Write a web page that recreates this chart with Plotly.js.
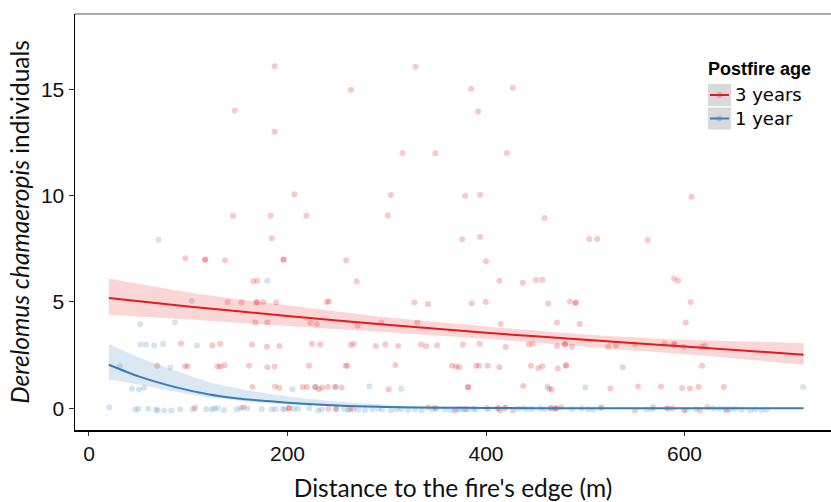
<!DOCTYPE html>
<html>
<head>
<meta charset="utf-8">
<script src="https://cdn.plot.ly/plotly-3.0.1.min.js"></script>
<style>html,body{margin:0;padding:0;background:#fff;}#chart{width:831px;height:502px;}</style>
</head>
<body>
<div id="chart"></div>
<script>
// ---------- DATA ----------
var seriesNames = ['3 years', '1 year'];
var legendTitle = 'Postfire age';
var xTitle = "Distance to the fire's edge (m)";
var yTitle = '<i>Derelomus chamaeropis</i> individuals';
var xTicks = [0, 200, 400, 600];
var yTicks = [0, 5, 10, 15];

// 3 years – observed counts (jittered as drawn)
var redHighX = [187,329,147,187,264,385,427,392,316,349,421,207,304,379,394,607,145,183,219,301,459,184,376,394,504,512,563,97,117,117,137,196,196,259,400];
var redHighY = [16.08,16.06,14.0,13.0,14.98,15.03,15.07,13.96,12.0,11.99,12.0,10.06,10.03,10.0,10.04,9.95,9.05,9.05,9.05,9.07,8.95,8.0,7.95,8.05,7.96,7.96,7.91,7.05,7.0,6.98,6.96,7.0,6.98,6.96,6.92];
var red6X = [165.5,169.6,269.7,413.4,437,450.4,456.7,589.4,593.5];
var red6Y = [5.97,6.0,5.96,6.0,5.9,6.03,6.05,6.1,6.0];
var red5X = [139.7,153.8,169,169,175.6,188.7,239.8,241.8,327.8,341.6,385.6,399.7,462.8,484.6,490.4,490.4,606.2];
var red5Y = [5.0,4.98,5.0,4.97,5.0,4.97,5.0,5.02,4.97,4.9,4.93,5.0,4.93,5.02,4.97,4.95,5.0];
var red4X = [167.6,179.7,223,229.7,270.7,294.5,330.8,414.8,471.5,494.4,601.2];
var red4Y = [4.04,4.04,4.04,3.96,3.88,4.04,4.04,3.96,4.04,3.96,4.04];
var red3X = [92.7,124.2,132.3,164.2,179.3,191.8,224.7,233,263.7,266.7,288.9,298.6,311.6,334.5,339.9,350.6,376.8,393.6,419.8,443,447,471.5,479.6,479.6,486.6,523.2,531,550.1,579.7,589.7,589.7,598.8,617.3,620.7];
var red3Y = [3.05,2.95,3.03,3.0,2.9,2.93,3.03,3.0,2.98,3.04,2.93,3.0,2.93,3.0,2.92,2.95,3.0,3.03,2.88,3.0,3.03,2.93,3.0,3.02,2.9,2.9,2.95,3.0,3.03,3.0,3.02,2.9,2.9,2.95];
var red2X = [68.8,96.7,99.4,129.7,132.3,136.7,161.2,179.7,187.1,221.7,258.6,260.3,308.6,365.7,370.1,373.1,390,393,401.7,413.4,445.3,452.7,456.7,472.5,480.6,480.6,537.7,617.6];
var red2Y = [2.0,1.98,1.98,1.96,1.96,2.02,2.0,1.93,1.96,2.0,2.0,2.0,2.04,2.0,1.96,1.93,2.0,2.0,2.0,1.93,2.0,1.9,1.98,1.87,2.0,2.02,1.93,2.0];
var red1X = [164.6,187.4,191.8,215.3,219.6,228,231.4,234.8,240.8,248.2,254.6,302,381.9,381.9,437.6,463.8,466.2,525.3,553.1,576.3,597.5,605.5,614.3,639.5];
var red1Y = [1.0,1.02,0.97,1.0,1.0,1.0,0.9,0.98,1.0,1.0,0.98,0.9,1.0,0.98,1.05,0.92,0.88,0.93,1.02,1.02,0.95,0.93,1.0,1.0];
var red0X = [106.8,155.5,201.5,201.5,241.1,248.9,263,266.3,341.9,348.6,368.8,379.5,412.4,414.1,419,427,465.2,469.5,471,475.6,516.5,550.1,568.6,583.7,588,599.5,615.6,623,642.5];
var red0Y = [0.02,0.05,0.0,0.02,-0.02,-0.02,-0.02,-0.03,0.05,0.03,-0.1,-0.05,0.0,-0.1,0.02,-0.1,0.0,0.02,0.0,0.05,0.05,-0.1,0.05,-0.02,0.0,-0.1,-0.1,0.05,-0.1];

// 1 year – observed counts
var blueNzX = [70,179.7,103.5,51.7,86.6,51.7,57.4,65.8,74.6,108.8,31,82,43.4,50.4,55.5,204.9,228,248.2,282.4,314.4,461.8,500,719.5];
var blueNzY = [7.93,6.0,5.05,3.95,4.04,3.0,3.0,2.95,3.02,2.95,1.99,1.92,0.92,0.88,0.97,0.9,1.0,1.0,1.02,0.92,1.02,0.98,1.0];
var blue0X = [20.5,46.7,49.7,59.8,67.5,69.2,75.9,82.9,92,104.5,117.9,123.6,126.3,129.7,136,148.8,152.8,159.5,174,184,188,195,197.5,206.5,210.6,222,231,234.4,249.2,256.9,261.3,271.3,278,285.5,291.5,295.5,304.3,310,315,321.7,328.5,335.2,346.3,350.3,358.7,364.4,370.5,373.8,377.2,382.2,387.2,389.6,400.7,402.3,411.4,419.5,432.6,437.6,442,446.7,454.4,458.8,465.2,469.5,486.3,496.4,503,508.1,515,561.9,567,582,601.5,611.6,629,634.8,640.8,645.8,651,657.6,666,671,677.8,682.8];
var blue0Y = [0.05,-0.07,-0.02,-0.02,-0.07,-0.09,-0.1,-0.1,-0.04,-0.05,-0.05,-0.06,0.0,0.0,-0.08,-0.05,0.0,-0.01,-0.03,-0.05,-0.05,-0.03,-0.04,-0.02,-0.02,0.0,-0.1,-0.04,-0.03,-0.05,-0.08,-0.06,-0.08,-0.04,-0.02,-0.06,-0.1,-0.06,-0.03,-0.08,-0.05,-0.09,-0.06,-0.02,-0.04,-0.09,-0.05,-0.03,-0.06,-0.04,-0.02,-0.05,0.02,-0.03,0.0,0.03,-0.02,0.02,-0.03,-0.02,0.0,-0.04,0.02,-0.05,-0.03,0.0,-0.04,-0.06,0.0,-0.06,-0.04,0.02,-0.08,-0.05,0.0,-0.02,-0.03,-0.05,-0.02,-0.07,-0.1,-0.06,-0.08,-0.06];

// fitted curves and confidence bands
var redFitX = [20, 100, 200, 300, 400, 500, 600, 720];
var redFitY = [5.19, 4.79, 4.34, 3.93, 3.55, 3.22, 2.91, 2.52];
var redUpY  = [6.10, 5.45, 4.85, 4.28, 3.85, 3.47, 3.22, 3.08];
var redLoY  = [4.40, 4.18, 3.87, 3.58, 3.27, 2.90, 2.55, 2.05];
var blueFitX = [20, 50, 85, 120, 150, 180, 220, 260, 300, 350, 400, 500, 600, 720];
var blueFitY = [2.05, 1.5, 1.02, 0.66, 0.46, 0.34, 0.2, 0.11, 0.06, 0.03, 0.015, 0.004, 0.001, 0.0];
var blueUpY  = [3.02, 2.4, 1.8, 1.25, 0.93, 0.7, 0.45, 0.28, 0.16, 0.08, 0.05, 0.02, 0.01, 0.005];
var blueLoY  = [1.36, 1.12, 0.80, 0.52, 0.36, 0.24, 0.13, 0.06, 0.03, 0.015, 0.008, 0.002, 0.0, 0.0];

// ---------- STYLE ----------
var RED = '#e41a1c', BLUE = '#377eb8';
var W = 831, H = 502, ML = 75, MR = 0, MT = 14, MB = 72;
var PW = W - ML - MR, PH = H - MT - MB;
function pxX(p){ return (p - ML) / PW; }
function pxY(p){ return (H - MB - p) / PH; }

var redX = [].concat(redHighX, red6X, red5X, red4X, red3X, red2X, red1X, red0X);
var redY = [].concat(redHighY, red6Y, red5Y, red4Y, red3Y, red2Y, red1Y, red0Y);
var blueX = [].concat(blueNzX, blue0X);
var blueY = [].concat(blueNzY, blue0Y);

var traces = [
  {x: blueX, y: blueY, mode: 'markers', type: 'scatter', name: seriesNames[1], showlegend: false,
   marker: {color: BLUE, size: 6, opacity: 0.22, line: {width: 0}}, hoverinfo: 'skip'},
  {x: redX, y: redY, mode: 'markers', type: 'scatter', name: seriesNames[0], showlegend: false,
   marker: {color: RED, size: 6, opacity: 0.24, line: {width: 0}}, hoverinfo: 'skip'},
  {x: redFitX, y: redLoY, mode: 'lines', type: 'scatter', showlegend: false, line: {width: 0, shape: 'spline', smoothing: 0.6}, hoverinfo: 'skip'},
  {x: redFitX, y: redUpY, mode: 'lines', type: 'scatter', showlegend: false, fill: 'tonexty', fillcolor: 'rgba(228,26,28,0.18)', line: {width: 0, shape: 'spline', smoothing: 0.6}, hoverinfo: 'skip'},
  {x: blueFitX, y: blueLoY, mode: 'lines', type: 'scatter', showlegend: false, line: {width: 0, shape: 'spline', smoothing: 0.6}, hoverinfo: 'skip'},
  {x: blueFitX, y: blueUpY, mode: 'lines', type: 'scatter', showlegend: false, fill: 'tonexty', fillcolor: 'rgba(55,126,184,0.18)', line: {width: 0, shape: 'spline', smoothing: 0.6}, hoverinfo: 'skip'},
  {x: redFitX, y: redFitY, mode: 'lines', type: 'scatter', name: seriesNames[0], showlegend: false, line: {color: RED, width: 2, shape: 'spline', smoothing: 0.6}},
  {x: blueFitX, y: blueFitY, mode: 'lines', type: 'scatter', name: seriesNames[1], showlegend: false, line: {color: BLUE, width: 2, shape: 'spline', smoothing: 0.6}}
];

// manual legend (ggplot style grey keys)
var keyTop = [84, 107.5], keyH = 22, keyL = 708, keyR = 731;
var keyColors = [RED, BLUE];
var shapes = [
  {type: 'line', xref: 'paper', yref: 'paper', x0: 0, x1: 1, y0: 1, y1: 1, line: {color: '#555', width: 1}}
];
var annotations = [
  {xref: 'paper', yref: 'paper', x: pxX(keyL - 2), y: pxY(69), xanchor: 'left', yanchor: 'middle', showarrow: false,
   text: '<b>' + legendTitle + '</b>', font: {family: 'Liberation Sans, Arial, sans-serif', size: 18, color: '#000'}}
];
for (var i = 0; i < 2; i++) {
  var cy = keyTop[i] + keyH / 2;
  shapes.push({type: 'rect', xref: 'paper', yref: 'paper', x0: pxX(keyL), x1: pxX(keyR), y0: pxY(keyTop[i] + keyH), y1: pxY(keyTop[i]), fillcolor: '#d9d9d9', line: {width: 0}});
  shapes.push({type: 'line', xref: 'paper', yref: 'paper', x0: pxX(keyL + 2), x1: pxX(keyR - 2), y0: pxY(cy), y1: pxY(cy), line: {color: keyColors[i], width: 2}});
  shapes.push({type: 'circle', xref: 'paper', yref: 'paper', x0: pxX(keyL + 11.5 - 3), x1: pxX(keyL + 11.5 + 3), y0: pxY(cy + 3), y1: pxY(cy - 3), fillcolor: keyColors[i], opacity: 0.25, line: {width: 0}});
  annotations.push({xref: 'paper', yref: 'paper', x: pxX(keyR + 2), y: pxY(cy), xanchor: 'left', yanchor: 'middle', showarrow: false,
    text: seriesNames[i], font: {family: 'DejaVu Sans, sans-serif', size: 18, color: '#000'}});
}

var layout = {
  width: W, height: H,
  margin: {l: ML, r: MR, t: MT, b: MB, pad: 0},
  paper_bgcolor: '#fff', plot_bgcolor: '#fff',
  showlegend: false,
  xaxis: {
    range: [-14.1, 747.6], tickvals: xTicks, ticktext: xTicks.map(String),
    showgrid: false, zeroline: false, showline: true, linecolor: '#000', linewidth: 1.5,
    ticks: 'outside', ticklen: 4, tickwidth: 1, tickcolor: '#333',
    tickfont: {family: 'Liberation Sans, Arial, sans-serif', size: 21, color: '#111'},
    title: {text: xTitle, standoff: 20, font: {family: 'Lato, Open Sans, sans-serif', size: 24.5, color: '#111'}}
  },
  yaxis: {
    range: [-1.02, 18.54], tickvals: yTicks, ticktext: yTicks.map(String),
    showgrid: false, zeroline: false, showline: true, linecolor: '#000', linewidth: 1.5,
    ticks: 'outside', ticklen: 5, tickwidth: 1, tickcolor: '#333',
    tickfont: {family: 'Liberation Sans, Arial, sans-serif', size: 21, color: '#111'},
    title: {text: yTitle, standoff: 4, font: {family: 'Lato, Open Sans, sans-serif', size: 24.5, color: '#111'}}
  },
  shapes: shapes,
  annotations: annotations
};

Plotly.newPlot('chart', traces, layout, {staticPlot: true, displayModeBar: false});
</script>
</body>
</html>
